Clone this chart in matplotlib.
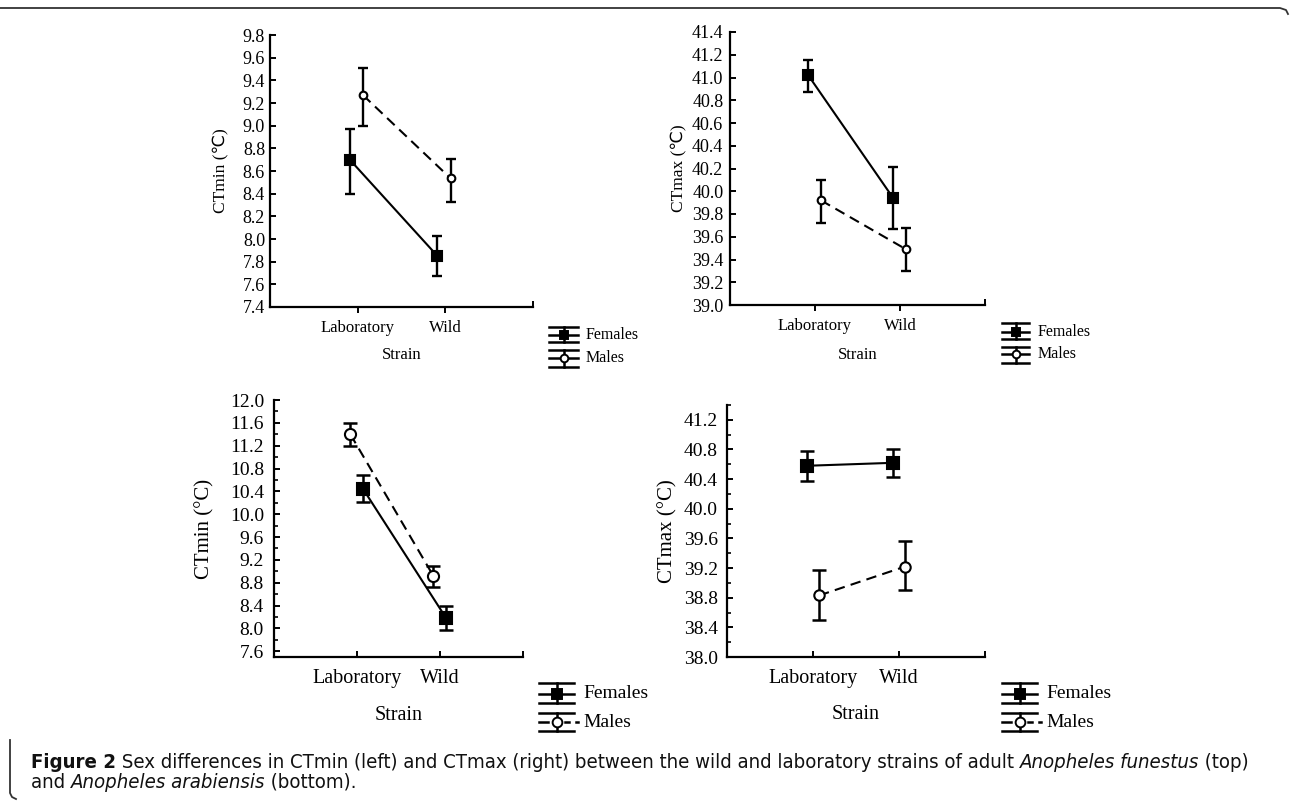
import matplotlib
matplotlib.use('Agg')
import matplotlib.pyplot as plt
from matplotlib.lines import Line2D
from matplotlib.ticker import MultipleLocator, FormatStrFormatter
from matplotlib import font_manager as fm
import numpy as np
import os

# ---------------- data ----------------
strains = ['Laboratory', 'Wild']
series_labels = ['Females', 'Males']

# An. funestus CTmin (top-left)
fun_min_f = [8.70, 7.85]
fun_min_f_lo = [8.40, 7.67]
fun_min_f_hi = [8.97, 8.03]
fun_min_m = [9.27, 8.535]
fun_min_m_lo = [9.00, 8.33]
fun_min_m_hi = [9.51, 8.71]

# An. funestus CTmax (top-right)
fun_max_f = [41.02, 39.94]
fun_max_f_lo = [40.87, 39.67]
fun_max_f_hi = [41.15, 40.21]
fun_max_m = [39.92, 39.49]
fun_max_m_lo = [39.72, 39.30]
fun_max_m_hi = [40.10, 39.68]

# An. arabiensis CTmin (bottom-left)
ara_min_f = [10.45, 8.19]
ara_min_f_lo = [10.22, 7.98]
ara_min_f_hi = [10.69, 8.39]
ara_min_m = [11.40, 8.92]
ara_min_m_lo = [11.20, 8.72]
ara_min_m_hi = [11.59, 9.10]

# An. arabiensis CTmax (bottom-right)
ara_max_f = [40.58, 40.62]
ara_max_f_lo = [40.38, 40.43]
ara_max_f_hi = [40.78, 40.80]
ara_max_m = [38.83, 39.22]
ara_max_m_lo = [38.50, 38.90]
ara_max_m_hi = [39.17, 39.57]

# ---------------- figure ----------------
W, H = 1290, 801
fig = plt.figure(figsize=(W / 100, H / 100), dpi=100)
SERIF = 'Liberation Serif'


def px_axes(l, r, t, b):
    return fig.add_axes([l / W, 1 - b / H, (r - l) / W, (b - t) / H])


def draw_panel(ax, f, flo, fhi, m, mlo, mhi, ylim, yticks, minor, ylabel,
               yfs, xfs, lfs, pad_y, pad_x, xdir, ylab_x, xlab_y,
               dodge_f, dodge_m, cap, ms_s, ms_o, elw, lw):
    x = np.arange(1, len(strains) + 1)
    for vals, lo, hi, dodge, mk, fc, ls, ms in [
            (f, flo, fhi, dodge_f, 's', 'black', '-', ms_s),
            (m, mlo, mhi, dodge_m, 'o', 'white', (0, (5, 3)), ms_o)]:
        vals = np.asarray(vals)
        err = np.vstack([vals - np.asarray(lo), np.asarray(hi) - vals])
        ax.errorbar(x + dodge, vals, yerr=err, fmt='none', ecolor='black',
                    elinewidth=elw, capsize=cap, capthick=elw, zorder=2)
        ax.plot(x + dodge, vals, color='black', lw=lw, ls=ls, zorder=3)
        ax.plot(x + dodge, vals, ls='none', marker=mk, ms=ms, mfc=fc,
                mec='black', mew=1.5, zorder=4)
    ax.set_xlim(0, 3)
    ax.set_ylim(*ylim)
    ax.set_yticks(yticks)
    if minor:
        ax.yaxis.set_minor_locator(MultipleLocator(minor))
    ax.yaxis.set_major_formatter(FormatStrFormatter('%.1f'))
    ax.set_xticks(x)
    ax.set_xticklabels(strains)
    for s in ['top', 'right']:
        ax.spines[s].set_visible(False)
    for s in ['left', 'bottom']:
        ax.spines[s].set_linewidth(1.6)
    ax.tick_params(axis='y', which='major', direction='in', length=4,
                   width=1.4, pad=pad_y, labelsize=yfs)
    ax.tick_params(axis='y', which='minor', direction='in', length=3,
                   width=1.2)
    ax.tick_params(axis='x', direction=xdir, length=4, width=1.4,
                   pad=pad_x, labelsize=xfs)
    for lab in ax.get_xticklabels() + ax.get_yticklabels():
        lab.set_fontfamily(SERIF)
    ax.set_ylabel(ylabel, fontsize=lfs, family=[SERIF, 'DejaVu Sans'], va='center')
    ax.yaxis.set_label_coords(ylab_x, 0.5)
    ax.set_xlabel('Strain', fontsize=xfs, family=SERIF, va='center')
    ax.xaxis.set_label_coords(0.5, xlab_y)
    ax.set_facecolor('none')


ax1 = px_axes(270, 533, 35, 307)
draw_panel(ax1, fun_min_f, fun_min_f_lo, fun_min_f_hi,
           fun_min_m, fun_min_m_lo, fun_min_m_hi,
           (7.4, 9.8), np.round(np.arange(7.4, 9.81, 0.2), 1), None,
           'CTmin (\u2103)', 13, 12, 12.5, 3.6, 5, 'out',
           -0.184, -0.176, -0.09, 0.06, 3.6, 6.5, 5.5, 1.7, 1.5)

ax2 = px_axes(730, 985, 32, 305)
draw_panel(ax2, fun_max_f, fun_max_f_lo, fun_max_f_hi,
           fun_max_m, fun_max_m_lo, fun_max_m_hi,
           (39.0, 41.4), np.round(np.arange(39.0, 41.41, 0.2), 1), None,
           'CTmax (\u2103)', 13, 12, 12.5, 4.8, 5, 'out',
           -0.2, -0.183, -0.08, 0.07, 3.6, 6.5, 5.5, 1.7, 1.5)

ax3 = px_axes(274, 523, 400, 657)
draw_panel(ax3, ara_min_f, ara_min_f_lo, ara_min_f_hi,
           ara_min_m, ara_min_m_lo, ara_min_m_hi,
           (7.5, 12.0), np.round(np.arange(7.6, 12.01, 0.4), 1), 0.2,
           'CTmin (\u00b0C)', 14, 14.5, 15, 7.2, 8.6, 'in',
           -0.277, -0.226, 0.07, -0.08, 4.8, 8.4, 8, 1.8, 1.5)

ax4 = px_axes(727, 985, 405, 657)
draw_panel(ax4, ara_max_f, ara_max_f_lo, ara_max_f_hi,
           ara_max_m, ara_max_m_lo, ara_max_m_hi,
           (38.0, 41.4), np.round(np.arange(38.0, 41.21, 0.4), 1), 0.2,
           'CTmax (\u00b0C)', 14, 14.5, 15, 6.5, 8.6, 'in',
           -0.229, -0.23, -0.07, 0.07, 4.8, 8.4, 7.5, 1.8, 1.5)

# x-axis end ticks
for ax in (ax3, ax4):
    ax.set_xticks([0, 3], minor=True)
    ax.tick_params(axis='x', which='minor', direction='in', length=4, width=1.4)
for ax in (ax1, ax2):
    ax.set_xticks([3], minor=True)
    ax.tick_params(axis='x', which='minor', direction='in', length=4, width=1.4)


# ---------------- legends (drawn in pixel space) ----------------
def fx(x):
    return x / W


def fy(y):
    return 1 - y / H


def legend_entry(x0, x1, yt, ym, yb, marker, filled, dashed, label, tx, fs, ms):
    xc = (x0 + x1) / 2
    kw = dict(transform=fig.transFigure, color='black', lw=1.8)
    fig.add_artist(Line2D([fx(x0), fx(x1)], [fy(yt), fy(yt)], **kw))
    fig.add_artist(Line2D([fx(x0), fx(x1)], [fy(yb), fy(yb)], **kw))
    fig.add_artist(Line2D([fx(xc), fx(xc)], [fy(yt), fy(yb)], **kw))
    if dashed:
        fig.add_artist(Line2D([fx(x0), fx(xc - 9)], [fy(ym), fy(ym)], **kw))
        fig.add_artist(Line2D([fx(xc + 8), fx(xc + 12)], [fy(ym), fy(ym)], **kw))
        fig.add_artist(Line2D([fx(x1 + 2), fx(x1 + 4)], [fy(ym), fy(ym)], **kw))
    else:
        fig.add_artist(Line2D([fx(x0), fx(x1)], [fy(ym), fy(ym)], **kw))
    fig.add_artist(Line2D([fx(xc)], [fy(ym)], transform=fig.transFigure,
                          marker=marker, ms=ms, mfc='black' if filled else 'white',
                          mec='black', mew=1.4, ls='none'))
    fig.text(fx(tx), fy(ym), label, fontsize=fs, family=SERIF, va='center', ha='left')


def legend_block(x0, x1, ys, tx, fs, ms, male_dashed):
    (a, b, c), (d, e, f) = ys
    legend_entry(x0, x1, a, b, c, 's', True, False, series_labels[0], tx, fs, ms)
    legend_entry(x0, x1, d, e, f, 'o', False, male_dashed, series_labels[1], tx, fs, ms)


legend_block(549, 578, [(326.7, 335, 342.3), (350, 358.3, 367.3)], 586, 11.5, 5.5, False)
legend_block(1002, 1029, [(323.3, 331.7, 339.3), (346.7, 354, 362.7)], 1038, 11.5, 5.5, False)
legend_block(539, 574, [(682.7, 694, 703.3), (712.7, 722.3, 730.7)], 583, 14, 7, True)
legend_block(1002, 1037, [(682.7, 694, 703.3), (712.7, 722.3, 730.7)], 1046, 14, 7, True)

# ---------------- border ----------------
bk = dict(transform=fig.transFigure, color='#333333', lw=1.3)
fig.add_artist(Line2D([fx(0), fx(1280), fx(1286), fx(1288)],
                      [fy(8), fy(8), fy(10), fy(14)], **bk))
fig.add_artist(Line2D([fx(10), fx(10), fx(12), fx(16)],
                      [fy(740), fy(793), fy(797), fy(799)], **bk))

# ---------------- caption ----------------
def find_font(patterns):
    files = [f.fname for f in fm.fontManager.ttflist]
    for p in patterns:
        for fn in files:
            if os.path.basename(fn).lower() == p.lower():
                return fn
    return None


cond_reg = find_font(['LiberationSansNarrow-Regular.ttf', 'DejaVuSansCondensed.ttf'])
cond_bold = find_font(['LiberationSansNarrow-Bold.ttf', 'DejaVuSansCondensed-Bold.ttf'])
cond_it = find_font(['LiberationSansNarrow-Italic.ttf', 'DejaVuSansCondensed-Oblique.ttf'])


def cap_props(st, wt, fs):
    if cond_reg and cond_bold and cond_it:
        fn = cond_bold if wt == 'bold' else (cond_it if st == 'italic' else cond_reg)
        return fm.FontProperties(fname=fn, size=fs)
    return fm.FontProperties(family='Liberation Sans', style=st, weight=wt, size=fs)


renderer = fig.canvas.get_renderer()

line1 = [('Figure 2', 'normal', 'bold'),
         (' Sex differences in CTmin (left) and CTmax (right) between the wild and laboratory strains of adult ', 'normal', 'normal'),
         ('Anopheles funestus', 'italic', 'normal'),
         (' (top)', 'normal', 'normal')]
line2 = [('and ', 'normal', 'normal'),
         ('Anopheles arabiensis', 'italic', 'normal'),
         (' (bottom).', 'normal', 'normal')]


def place_line(pieces, x_start, y_base, fs):
    x = x_start
    arts = []
    for s, st, wt in pieces:
        t = fig.text(fx(x), fy(y_base), s, fontproperties=cap_props(st, wt, fs),
                     va='baseline', ha='left', color='#111111')
        bb = t.get_window_extent(renderer)
        x = x + bb.width
        arts.append(t)
    return arts, x


fs = 13.0
arts, xe = place_line(line1, 31, 768, fs)
width = xe - 31
for a in arts:
    a.remove()
fs = fs * (1222 / width)
place_line(line1, 31, 768, fs)
place_line(line2, 31, 788, fs)

fig.savefig('out.png', dpi=100)
